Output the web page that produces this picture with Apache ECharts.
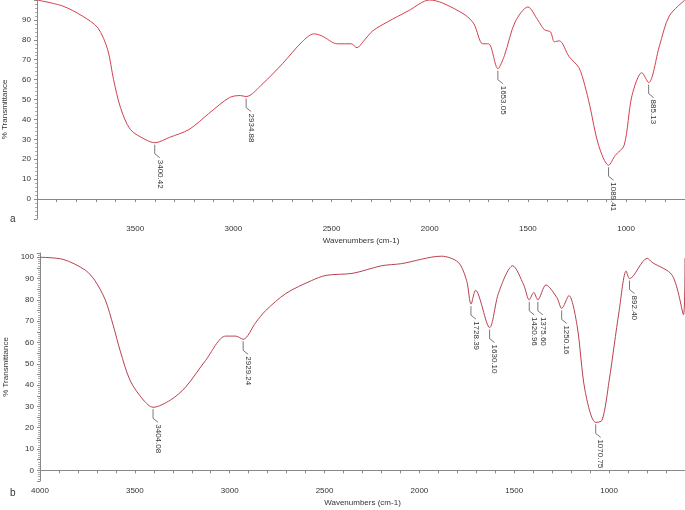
<!DOCTYPE html>
<html>
<head>
<meta charset="utf-8">
<script src="https://cdn.jsdelivr.net/npm/echarts@6/dist/echarts.min.js"></script>
<style>
  html, body { margin: 0; padding: 0; background: #fff; }
  #chart { width: 685px; height: 510px; }
</style>
</head>
<body>
<div id="chart"></div>
<script>
// spectrum a: [wavenumber, %T]
const spectrumA = [
  [4000, 100], [3870, 97], [3770, 92], [3690, 86], [3640, 75], [3610, 60], [3575, 46],
  [3525, 35], [3450, 30], [3400, 28.3], [3325, 31], [3225, 35], [3125, 43], [3020, 51],
  [2965, 52], [2935, 51.5], [2850, 58], [2750, 68], [2650, 79], [2590, 83], [2550, 82],
  [2470, 78], [2400, 78], [2370, 76], [2340, 79], [2290, 84.5], [2215, 89], [2110, 94.5],
  [2000, 100], [1935, 98.5], [1820, 92.5], [1775, 88], [1730, 78], [1700, 78], [1653, 65.5],
  [1620, 72], [1565, 89], [1500, 96.5], [1450, 90], [1415, 85], [1385, 84], [1365, 79],
  [1340, 79.5], [1290, 71.5], [1240, 66], [1210, 57], [1185, 47], [1140, 27], [1089, 17],
  [1055, 22], [1010, 27], [970, 52], [920, 63.5], [885, 58.5], [830, 77], [780, 92], [700, 100]
];
// spectrum b
const spectrumB = [
  [4000, 100], [3878, 99], [3762, 94], [3710, 89], [3656, 80], [3614, 68], [3577, 56],
  [3524, 42], [3455, 33], [3404, 29.6], [3312, 33], [3233, 39], [3127, 51.6], [3021, 63],
  [2968, 63], [2929, 61.5], [2862, 69.5], [2810, 75], [2704, 83], [2570, 89], [2492, 91.5],
  [2350, 92.5], [2200, 96], [2095, 97], [1884, 100.5], [1795, 97.6], [1751, 89], [1728, 78],
  [1704, 84.5], [1630, 67], [1582, 83.5], [1508, 96], [1450, 87], [1421, 80], [1397, 83.5],
  [1376, 80], [1333, 87], [1275, 81], [1250, 76], [1212, 82], [1169, 68], [1127, 37.5],
  [1071, 22.5], [1037, 23.5], [1000, 42], [947, 75], [910, 93.5], [892, 90], [799, 99.5],
  [773, 97.6], [667, 91.5], [608, 73], [600, 99.5]
];
// peak labels [wavenumber, %T, text]
const peaksA = [
  [3400.42, 28.3, '3400.42'], [2934.88, 51.5, '2934.88'], [1653.05, 65.5, '1653.05'],
  [1089.41, 17, '1089.41'], [885.13, 58.5, '885.13']
];
const peaksB = [
  [3404.08, 29.6, '3404.08'], [2929.24, 61.5, '2929.24'], [1728.39, 78, '1728.39'],
  [1630.10, 67, '1630.10'], [1420.96, 80, '1420.96'], [1375.60, 80, '1375.60'],
  [1250.16, 76, '1250.16'], [1070.75, 22.5, '1070.75'], [892.40, 90, '892.40']
];

const font = 'Arial, "Liberation Sans", sans-serif';

function xAxis(idx, min, showMax) {
  return {
    gridIndex: idx, type: 'value', inverse: true, min: min, max: 4000, interval: 100,
    axisLine: { lineStyle: { color: '#888' } },
    axisTick: { length: 3, lineStyle: { color: '#888' } },
    splitLine: { show: false },
    axisLabel: {
      color: '#333', fontSize: 8, fontFamily: font, margin: 6,
      showMinLabel: false, showMaxLabel: showMax,
      formatter: v => (v % 500 === 0 ? String(v) : '')
    },
    name: 'Wavenumbers (cm-1)', nameLocation: 'middle', nameGap: 18,
    nameTextStyle: { color: '#333', fontSize: 8, fontFamily: font }
  };
}
function yAxis(idx, min, max, interval, top) {
  return {
    gridIndex: idx, type: 'value', min: min, max: max, interval: interval,
    axisLine: { show: true, lineStyle: { color: '#888' } },
    axisTick: { show: true, length: 3, lineStyle: { color: '#888' } },
    minorTick: { show: true, splitNumber: 5, length: 2, lineStyle: { color: '#aaa' } },
    splitLine: { show: false },
    axisLabel: {
      color: '#333', fontSize: 8, fontFamily: font, margin: 6,
      formatter: v => (v >= 0 && v % 10 === 0 && v <= top ? String(v) : '')
    },
    name: '% Transmittance', nameLocation: 'middle', nameGap: 28, nameRotate: 90,
    nameTextStyle: { color: '#333', fontSize: 8, fontFamily: font }
  };
}

function peakSeries(idx, data) {
  return {
    type: 'custom', xAxisIndex: idx, yAxisIndex: idx, data: data,
    renderItem: (params, api) => {
      const p = api.coord([api.value(0), api.value(1)]);
      const x0 = p[0], y0 = p[1] + 2;
      return {
        type: 'group', children: [
          { type: 'polyline', shape: { points: [[x0, y0], [x0, y0 + 9], [x0 + 5, y0 + 13]] },
            style: { stroke: '#555', lineWidth: 0.8, fill: null } },
          { type: 'text', x: x0 + 5, y: y0 + 15, rotation: -Math.PI / 2,
            style: { text: data[params.dataIndex][2], fill: '#333', fontSize: 8,
              fontFamily: font, align: 'left', verticalAlign: 'middle' } }
        ]
      };
    },
    z: 5, silent: true
  };
}

const chart = echarts.init(document.getElementById('chart'));
chart.setOption({
  animation: false,
  backgroundColor: '#fff',
  grid: [
    { left: 37, right: 0, top: 0, height: 219, outerBoundsMode: 'none', containLabel: false },
    { left: 40, right: 0, top: 253, bottom: 29, outerBoundsMode: 'none', containLabel: false }
  ],
  xAxis: [xAxis(0, 700, false), xAxis(1, 600, true)],
  yAxis: [yAxis(0, -10, 100, 10, 90), yAxis(1, -5, 102, 5, 100)],
  graphic: [
    { type: 'text', left: 10, top: 214, style: { text: 'a', fontSize: 10, fill: '#333', fontFamily: font } },
    { type: 'text', left: 10, top: 488, style: { text: 'b', fontSize: 10, fill: '#333', fontFamily: font } }
  ],
  series: [
    { type: 'line', xAxisIndex: 0, yAxisIndex: 0, data: spectrumA, smooth: 0.3, symbol: 'none',
      lineStyle: { color: '#d2404c', width: 1 } },
    { type: 'line', xAxisIndex: 1, yAxisIndex: 1, data: spectrumB, smooth: 0.3, symbol: 'none',
      lineStyle: { color: '#b8414f', width: 1 } },
    peakSeries(0, peaksA),
    peakSeries(1, peaksB)
  ]
});
</script>
</body>
</html>
